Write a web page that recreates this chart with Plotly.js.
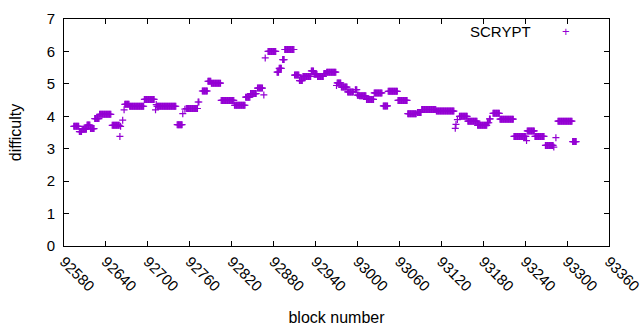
<!DOCTYPE html>
<html>
<head>
<meta charset="utf-8">
<script src="https://cdn.plot.ly/plotly-3.0.1.min.js"></script>
<style>html,body{margin:0;padding:0;background:#fff;}#chart{width:640px;height:330px;}</style>
</head>
<body>
<div id="chart"></div>
<script>
// Difficulty runs for SCRYPT: first block, last block, difficulty
const runStart = [92594,92602,92606,92613,92618,92624,92631,92649,92660,92661,92664,92666,92667,92674,92695,92711,92712,92713,92742,92750,92753,92755,92772,92778,92786,92791,92805,92824,92840,92847,92857,92866,92868,92872,92885,92888,92893,92896,92910,92917,92922,92934,92938,92943,92952,92956,92970,92971,92977,92986,92997,93000,93003,93013,93024,93037,93044,93058,93072,93086,93092,93113,93140,93141,93143,93146,93158,93172,93186,93189,93194,93204,93224,93242,93243,93254,93269,93281,93284,93287,93308];
const runEnd   = [92601,92605,92612,92617,92623,92630,92647,92659,92660,92661,92664,92666,92673,92694,92709,92711,92712,92740,92749,92750,92753,92771,92773,92785,92790,92804,92823,92839,92846,92855,92864,92866,92868,92883,92887,92891,92895,92909,92916,92921,92933,92937,92942,92951,92955,92969,92970,92976,92985,92994,92999,93002,93012,93023,93035,93043,93057,93071,93084,93091,93112,93138,93140,93141,93143,93157,93171,93185,93188,93190,93203,93223,93241,93242,93253,93267,93280,93281,93284,93307,93313];
const runValue = [3.69,3.53,3.60,3.73,3.62,3.93,4.06,3.72,3.38,3.69,3.88,4.20,4.37,4.31,4.52,4.20,4.36,4.31,3.74,4.08,4.22,4.24,4.44,4.78,5.08,5.02,4.49,4.34,4.59,4.70,4.87,4.66,5.80,6.00,5.36,5.48,5.75,6.06,5.27,5.10,5.23,5.40,5.30,5.23,5.32,5.36,4.95,5.03,4.90,4.75,4.82,4.65,4.63,4.52,4.72,4.32,4.77,4.49,4.08,4.12,4.21,4.16,3.63,3.75,3.90,4.00,3.85,3.72,3.80,3.92,4.09,3.91,3.38,3.25,3.55,3.38,3.10,3.05,3.34,3.85,3.22];
const xTicks = [92580,92640,92700,92760,92820,92880,92940,93000,93060,93120,93180,93240,93300,93360];
const yTicks = [0,1,2,3,4,5,6,7];
const seriesName = 'SCRYPT';

const blocks = [], diffs = [];
for (let i = 0; i < runStart.length; i++) {
  for (let b = runStart[i]; b <= runEnd[i]; b++) { blocks.push(b); diffs.push(runValue[i]); }
}

const purple = '#9400d3';
const font = {family: '"Liberation Sans", Arial, sans-serif', size: 15, color: '#000'};
const titleFont = {family: '"Liberation Sans", Arial, sans-serif', size: 16, color: '#000'};

const trace = {
  x: blocks, y: diffs, type: 'scatter', mode: 'markers', name: seriesName,
  marker: {symbol: 'cross-thin', size: 5, color: purple, line: {color: purple, width: 1.2}}
};

const layout = {
  width: 640, height: 330,
  margin: {l: 64, r: 31, t: 19, b: 84},
  paper_bgcolor: '#fff', plot_bgcolor: '#fff',
  font: font,
  showlegend: false,
  xaxis: {
    range: [92580, 93360], tickmode: 'array', tickvals: xTicks, ticktext: xTicks.map(String),
    tickangle: 45, ticks: 'inside', ticklen: 5, tickcolor: '#000', tickwidth: 1,
    showline: true, linecolor: '#000', linewidth: 1, mirror: 'ticks',
    showgrid: false, zeroline: false, tickfont: font, ticklabeloverflow: 'allow',
    title: {text: 'block number', font: titleFont, standoff: 18}
  },
  yaxis: {
    range: [0, 7], tickmode: 'array', tickvals: yTicks, ticktext: yTicks.map(String),
    ticks: 'inside', ticklen: 5, tickcolor: '#000', tickwidth: 1,
    showline: true, linecolor: '#000', linewidth: 1, mirror: 'ticks',
    showgrid: false, zeroline: false, tickfont: font, ticklabelstandoff: 5,
    title: {text: 'difficulty', font: titleFont, standoff: 21}
  },
  annotations: [
    {xref: 'paper', yref: 'paper', x: 0.86, y: 0.947, xanchor: 'right', yanchor: 'middle',
     text: seriesName, showarrow: false, font: font},
    {xref: 'paper', yref: 'paper', x: 0.922, y: 0.945, xanchor: 'center', yanchor: 'middle',
     text: '+', showarrow: false, font: {family: font.family, size: 13, color: purple}}
  ]
};

Plotly.newPlot('chart', [trace], layout, {staticPlot: true, displayModeBar: false});
</script>
</body>
</html>
